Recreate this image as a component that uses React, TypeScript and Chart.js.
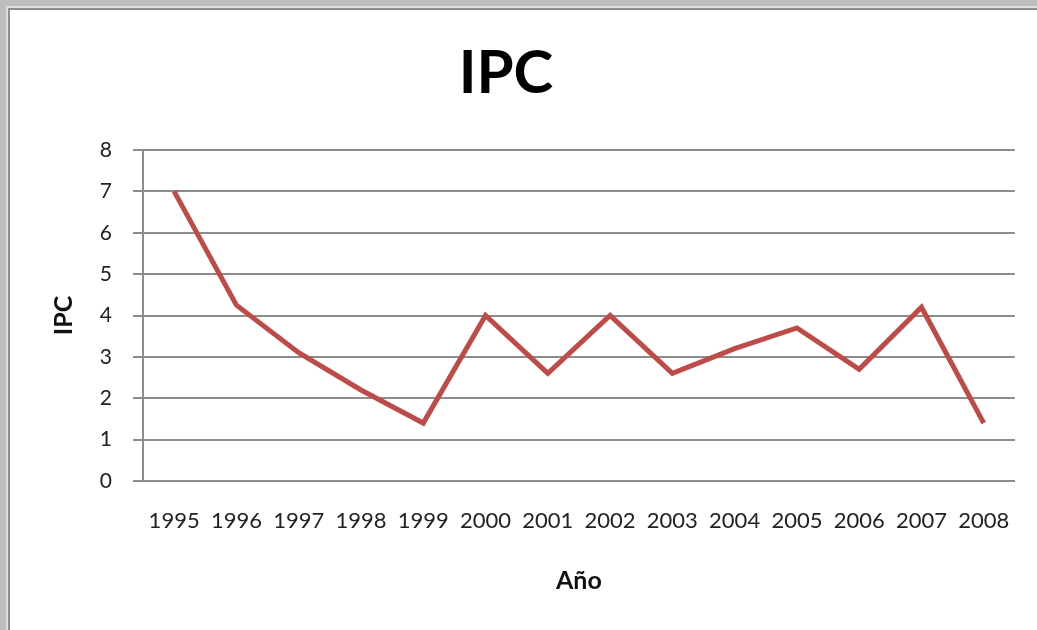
import React, { useEffect, useRef } from "react";
import { Chart, registerables } from "chart.js";

Chart.register(...registerables);

const years: string[] = ["1995", "1996", "1997", "1998", "1999", "2000", "2001", "2002", "2003", "2004", "2005", "2006", "2007", "2008"];
const ipcValues: number[] = [7.0, 4.25, 3.1, 2.2, 1.4, 4.0, 2.6, 4.0, 2.6, 3.2, 3.7, 2.7, 4.2, 1.4];
const chartTitle = "IPC";
const yAxisTitle = "IPC";
const xAxisTitle = "Año";

const FONT = "Lato, 'Open Sans', sans-serif";

const titlePlugin = {
  id: "customTitle",
  afterDraw(chart: any) {
    const ctx = chart.ctx;
    ctx.save();
    ctx.font = `bold 60px ${FONT}`;
    ctx.fillStyle = "#000000";
    ctx.textAlign = "center";
    ctx.textBaseline = "alphabetic";
    ctx.fillText(chartTitle, 506, 93);
    ctx.restore();
  },
};

export default function App() {
  const ref = useRef<HTMLCanvasElement | null>(null);

  useEffect(() => {
    document.body.style.margin = "0";
    if (!ref.current) return;
    const chart = new Chart(ref.current, {
      type: "line",
      data: {
        labels: years,
        datasets: [
          {
            label: "IPC",
            data: ipcValues,
            borderColor: "#BE4B48",
            backgroundColor: "#BE4B48",
            borderWidth: 5,
            pointRadius: 0,
            tension: 0,
            fill: false,
          },
        ],
      },
      options: {
        responsive: false,
        animation: false,
        devicePixelRatio: 1,
        layout: { padding: { left: 20, right: 21, top: 150, bottom: 0 } },
        plugins: {
          legend: { display: false },
          tooltip: { enabled: false },
          title: { display: false },
        },
        scales: {
          x: {
            offset: true,
            grid: { display: false, drawTicks: false },
            border: { display: true, color: "#8c8c8c", width: 2 },
            ticks: {
              color: "#222222",
              font: { family: FONT, size: 22 },
              padding: 27,
              maxRotation: 0,
              autoSkip: false,
            },
            title: {
              display: true,
              text: xAxisTitle,
              color: "#111111",
              font: { family: FONT, size: 25, weight: "bold" },
              padding: { top: 0, bottom: 34 },
            },
            afterFit(scale: any) {
              scale.height = 149;
            },
          },
          y: {
            min: 0,
            max: 8,
            ticks: {
              stepSize: 1,
              color: "#222222",
              font: { family: FONT, size: 21 },
              padding: 21,
            },
            grid: { color: "#8c8c8c", lineWidth: 2, drawTicks: true, tickLength: 10 },
            border: { display: true, color: "#8c8c8c", width: 2 },
            title: {
              display: true,
              text: yAxisTitle,
              color: "#111111",
              font: { family: FONT, size: 25, weight: "bold" },
              padding: { top: 29, bottom: 0 },
            },
            afterFit(scale: any) {
              scale.width = 123;
            },
          },
        },
      },
      plugins: [titlePlugin],
    });
    return () => chart.destroy();
  }, []);

  return (
    <div style={{ position: "fixed", left: 0, top: 0, width: 1037, height: 630, background: "#bdbdbd", overflow: "hidden" }}>
      <div style={{ position: "absolute", left: 6, top: 6, right: 0, bottom: 0, borderTop: "2px solid #dcdcdc", borderLeft: "2px solid #dcdcdc" }}>
        <div style={{ position: "absolute", left: 0, top: 0, right: 0, bottom: 0, borderTop: "2px solid #8e8e8e", borderLeft: "2px solid #8e8e8e", background: "#ffffff" }} />
      </div>
      <canvas ref={ref} width={1037} height={630} style={{ position: "absolute", left: 0, top: 0 }} />
    </div>
  );
}
